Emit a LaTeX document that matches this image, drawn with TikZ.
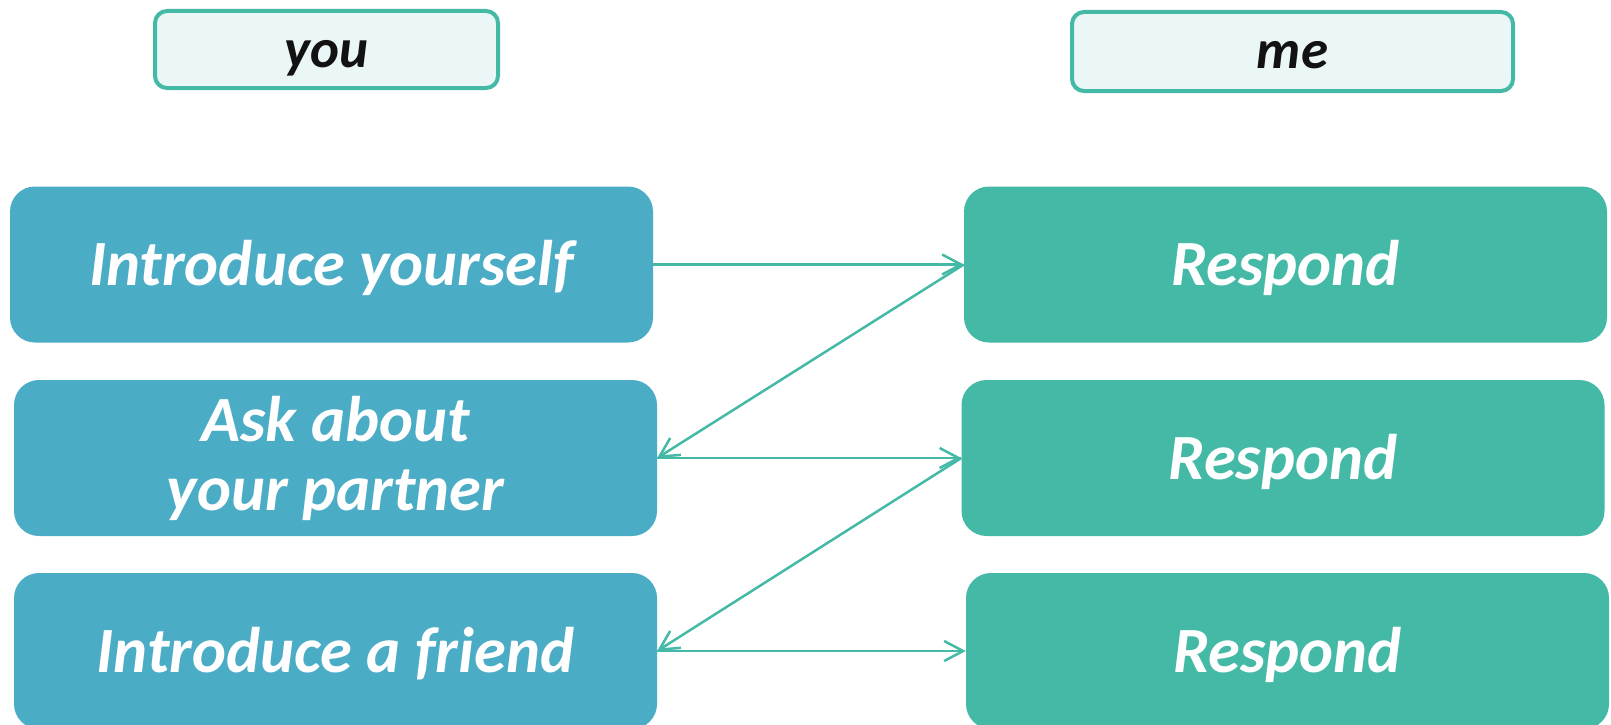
\documentclass[tikz,border=0pt]{standalone}
\usepackage{fontspec}
\setmainfont{Carlito}
\usetikzlibrary{arrows.meta}
\definecolor{youblue}{HTML}{4BACC6}
\definecolor{meteal}{HTML}{43B9A6}
\definecolor{headfill}{HTML}{EAF7F6}

\begin{document}
\begin{tikzpicture}[x=1pt,y=-1pt,
  >={Straight Barb[length=19pt,width=20pt]},
  head/.style={draw=meteal,line width=4pt,fill=headfill,rounded corners=12pt,
    text height=46pt,text depth=11pt,
    font=\fontsize{55}{60}\selectfont\bfseries\itshape,text=black!93},
  youbox/.style={fill=youblue,rounded corners=25pt,minimum width=643pt,
    minimum height=156pt,text=white,align=center,
    font=\fontsize{64.5}{69}\selectfont\bfseries\itshape},
  mebox/.style={youbox,fill=meteal},
  oneline/.style={text height=55pt,text depth=13pt},
  link/.style={->,draw=meteal,line width=2.5pt}]
\useasboundingbox (0,0) rectangle (1611,725);

% column heads
\node[head,minimum width=343pt,minimum height=77pt] (you) at (326.5,49.5) {you};
\node[head,minimum width=441pt,minimum height=79pt] (me) at (1292.5,51.5) {me};

% left column
\node[youbox,oneline] (intro) at (331.5,264.5) {Introduce yourself};
\node[youbox] (ask) at (335.5,458) {Ask about\\your partner};
\node[youbox,oneline] (friend) at (335.5,651) {Introduce a friend};

% right column
\node[mebox,oneline] (resp1) at (1285.5,264.5) {Respond};
\node[mebox,oneline] (resp2) at (1283,458) {Respond};
\node[mebox,oneline] (resp3) at (1287.5,651) {Respond};

% zig-zag
\draw[link] (intro.east) -- (resp1.west);
\draw[link] (resp1.west) -- (ask.east);
\draw[link] (ask.east) -- (resp2.west);
\draw[link] (resp2.west) -- (friend.east);
\draw[link] (friend.east) -- (resp3.west);
\end{tikzpicture}
\end{document}
